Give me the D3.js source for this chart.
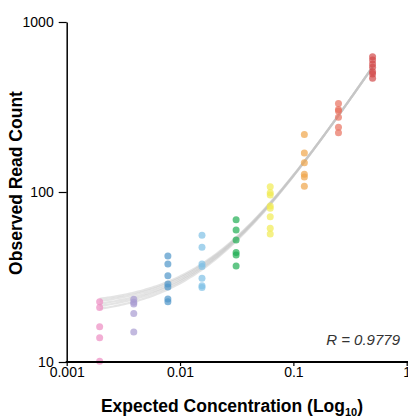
<!DOCTYPE html>
<html>
<head>
<meta charset="utf-8">
<script src="https://cdn.jsdelivr.net/npm/d3@7"></script>
<style>
  body { margin: 0; background: #fff; }
  text { font-family: "Liberation Sans", Arial, Helvetica, sans-serif; }
</style>
</head>
<body>
<div id="chart"></div>
<script>
// expected concentrations (two-fold dilution series)
var concentrations = [1/512, 1/256, 1/128, 1/64, 1/32, 1/16, 1/8, 1/4, 1/2];

// observed read counts for each concentration
var counts = [
  [22.6, 20.9, 16.1, 13.9, 10.1],
  [23.4, 21.9, 19.3, 15.0, 22.5],
  [42.0, 37.7, 32.2, 28.8, 27.6, 23.5, 22.6],
  [55.6, 47.3, 37.7, 36.4, 31.1, 28.1, 27.4],
  [68.7, 59.8, 52.2, 44.0, 42.6, 36.7],
  [107.5, 99.1, 96.0, 82.7, 80.2, 71.6, 61.1, 56.6],
  [218, 169.6, 148.7, 127, 122.5, 108],
  [332, 306, 300, 275, 240, 223],
  [625, 598, 566, 541, 510, 494, 466]
];

var colors = ["#ec8cc2", "#a89bd1", "#4f96c9", "#7fc0e6", "#1fae52",
              "#f1eb52", "#f0a54a", "#e8705e", "#d14848"];

// fitted curves y = a*x + b
var fitSlopes = [1054, 1051, 1048, 1045, 1042];
var fitIntercepts = [18.5, 19.3, 20.0, 20.8, 21.5];

var xTicks = [0.001, 0.01, 0.1, 1];
var yTicks = [10, 100, 1000];
var rLabel = "R = 0.9779";

var width = 408, height = 417;
var svg = d3.select("#chart").append("svg")
  .attr("width", width)
  .attr("height", height);

var x = d3.scaleLog().domain([0.001, 1]).range([66.7, 406.7]);
var y = d3.scaleLog().domain([10, 1000]).range([362, 22]);

// fit curves
var line = d3.line()
  .x(function(d) { return x(d[0]); })
  .y(function(d) { return y(d[1]); });

var lo = Math.log10(concentrations[0]), hi = Math.log10(concentrations[8]);
var xs = d3.range(0, 101).map(function(i) {
  return Math.pow(10, lo + i / 100 * (hi - lo));
});

fitSlopes.forEach(function(a, k) {
  var b = fitIntercepts[k];
  svg.append("path")
    .datum(xs.map(function(v) { return [v, a * v + b]; }))
    .attr("d", line)
    .attr("fill", "none")
    .attr("stroke", "#c4c4c4")
    .attr("stroke-opacity", 0.45)
    .attr("stroke-width", 2.2);
});

// points
var pts = [];
counts.forEach(function(col, i) {
  col.forEach(function(v) { pts.push({x: concentrations[i], y: v, c: colors[i]}); });
});

svg.append("g").selectAll("circle")
  .data(pts)
  .join("circle")
  .attr("cx", function(d) { return x(d.x); })
  .attr("cy", function(d) { return y(d.y); })
  .attr("r", 3.5)
  .attr("fill", function(d) { return d.c; })
  .attr("fill-opacity", 0.7);

// y axis
var yAxis = svg.append("g")
  .attr("transform", "translate(" + x(0.001) + ",0)")
  .call(d3.axisLeft(y).tickValues(yTicks).tickFormat(d3.format("d"))
    .tickSize(8).tickSizeOuter(0).tickPadding(5));
yAxis.select(".domain").attr("stroke-width", 1.5);
yAxis.selectAll(".tick line").attr("stroke-width", 1.2);
yAxis.selectAll("text").attr("font-size", 14).attr("fill", "#000")
  .style("font-family", "'Liberation Sans', Arial, sans-serif");

// x axis
var xAxis = svg.append("g")
  .attr("transform", "translate(0," + y(10) + ")")
  .call(d3.axisBottom(x).tickValues(xTicks).tickFormat(function(d) { return String(d); })
    .tickSize(4).tickSizeOuter(0).tickPadding(1));
xAxis.select(".domain").remove();
xAxis.selectAll(".tick line").attr("stroke-width", 1.2);
xAxis.selectAll("text").attr("font-size", 14).attr("fill", "#000")
  .style("font-family", "'Liberation Sans', Arial, sans-serif");
xAxis.append("line")
  .attr("x1", x(0.001) - 1).attr("x2", width)
  .attr("y1", 0).attr("y2", 0)
  .attr("stroke", "#000").attr("stroke-width", 2.2);

// axis titles
svg.append("text")
  .attr("transform", "translate(22,183) rotate(-90)")
  .attr("text-anchor", "middle")
  .attr("font-size", 17.5)
  .attr("font-weight", "bold")
  .text("Observed Read Count");

var xt = svg.append("text")
  .attr("x", 232)
  .attr("y", 412)
  .attr("text-anchor", "middle")
  .attr("font-size", 17.5)
  .attr("font-weight", "bold");
xt.append("tspan").text("Expected Concentration (Log");
xt.append("tspan").attr("font-size", 11).attr("dy", 4).text("10");
xt.append("tspan").attr("dy", -4).text(")");

// correlation label
svg.append("text")
  .attr("x", 400)
  .attr("y", 345)
  .attr("text-anchor", "end")
  .attr("font-size", 15)
  .attr("font-style", "italic")
  .attr("fill", "#333")
  .text(rLabel);
</script>
</body>
</html>
